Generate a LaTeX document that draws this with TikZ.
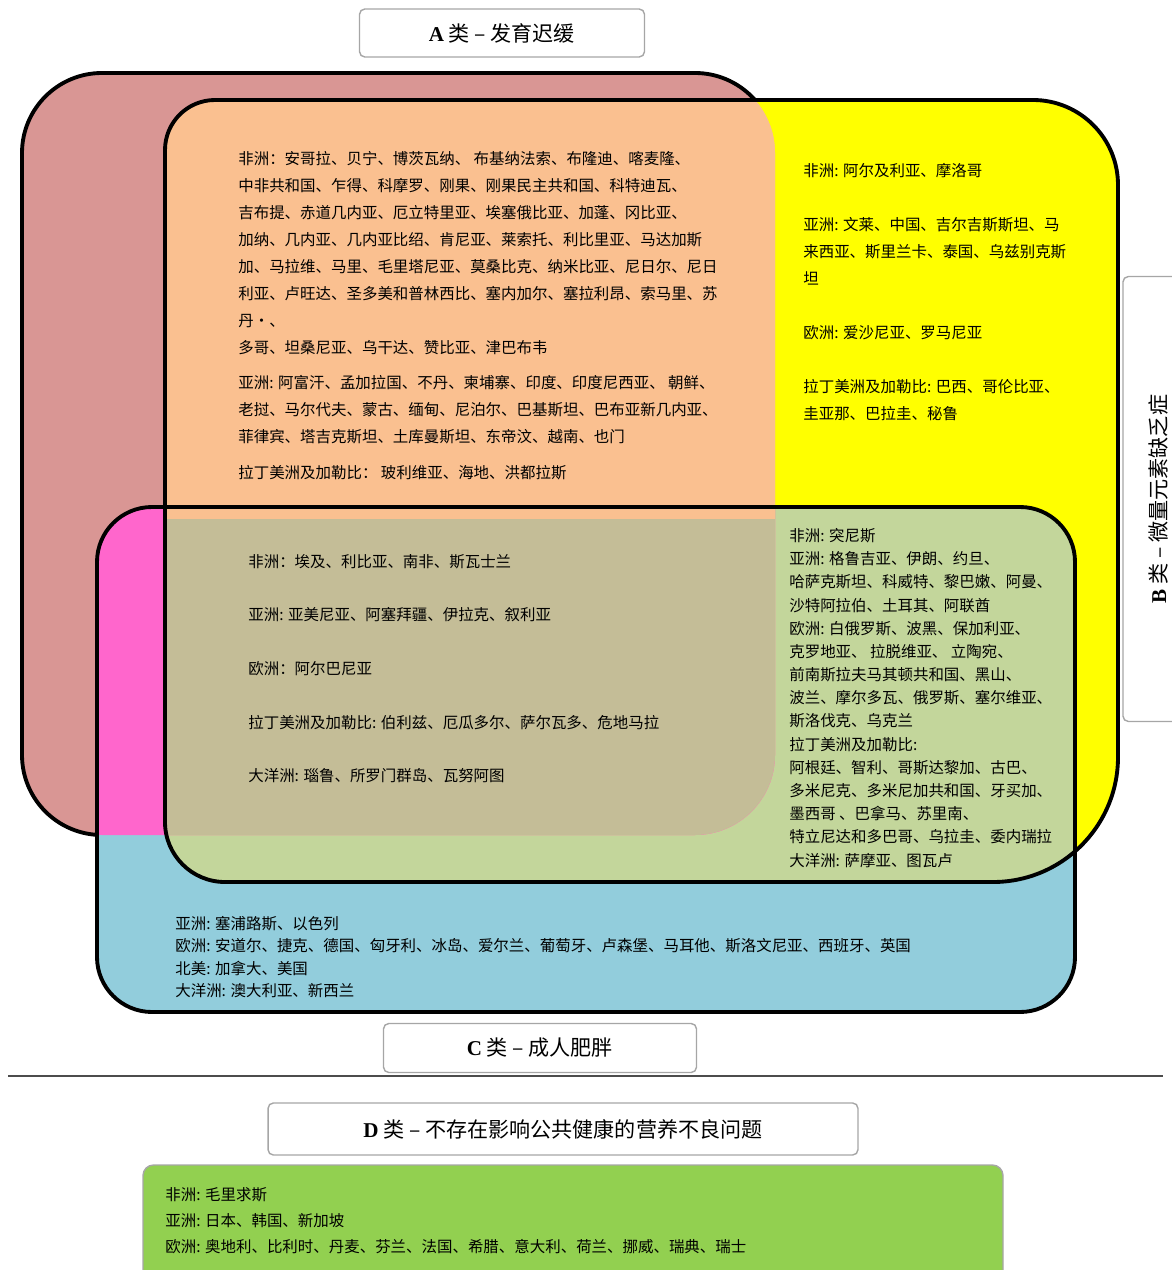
\documentclass[tikz,border=0pt]{standalone}
\usepackage{fontspec}
\setmainfont{Liberation Serif}
\newfontfamily\cjk{Noto Sans CJK SC}
\definecolor{rosea}{HTML}{D99694}
\definecolor{jauneb}{HTML}{FFFF00}
\definecolor{bleuc}{HTML}{92CDDC}
\definecolor{orangeab}{HTML}{FAC090}
\definecolor{magentaac}{HTML}{FF66CC}
\definecolor{vertbc}{HTML}{C3D69B}
\definecolor{kakiabc}{HTML}{C4BD97}
\definecolor{vertd}{HTML}{92D050}
\newcommand\ensA{[rounded corners=1.6cm] (22,73) rectangle (775,835)}
\newcommand\ensB{(165,480) [rounded corners=1.0cm] -- (165,100) [rounded corners=1.7cm] -- (1118,100) [rounded corners=2.5cm] -- (1118,882) [rounded corners=1.2cm] -- (165,882) -- cycle}
\newcommand\ensC{[rounded corners=1.1cm] (97,507) rectangle (1075,1012)}
\begin{document}
\begin{tikzpicture}[x=0.02cm,y=-0.02cm,
	contour/.style={line width=2.2pt,black},
	liste/.style={font=\cjk\fontsize{8.8}{15.4}\selectfont,align=left,inner sep=0pt,anchor=north west},
	titre/.style={draw=gray!70,fill=white,rounded corners=3pt,line width=0.8pt,font=\cjk\fontsize{12}{14}\selectfont,inner sep=0pt}]
		\useasboundingbox (0,0) rectangle (1171,1270);
		% Ensembles
		\fill [rosea] \ensA;
		\fill [jauneb] \ensB;
		\fill [bleuc] \ensC;
		\begin{scope}
			\clip \ensB;
			\fill [vertbc] \ensC;
		\end{scope}
		\begin{scope}
			\clip \ensA;
			\fill [orangeab] \ensB;
			\fill [magentaac] \ensC;
			\clip \ensB;
			\fill [kakiabc] \ensC;
			\fill [orangeab] (0,0) rectangle (1171,519);
		\end{scope}
		\draw [contour] \ensB;
		\draw [contour] \ensC;
		\begin{scope}
			\clip (0,0) -- (1171,0) -- (1171,100) -- (165,100) -- (165,507) -- (97,507) -- (97,1270) -- (0,1270) -- cycle;
			\draw [contour] \ensA;
		\end{scope}
		% Titres
		\node [titre,minimum width=5.7cm,minimum height=0.96cm] (titreA) at (502,33) {{\rmfamily\bfseries A} 类 – 发育迟缓};
		\node [titre,rotate=90,minimum width=8.9cm,minimum height=1.4cm] (titreB) at (1158,499) {{\rmfamily\bfseries B} 类 – 微量元素缺乏症};
		\node [titre,minimum width=6.26cm,minimum height=0.98cm] (titreC) at (540,1048) {{\rmfamily\bfseries C} 类 – 成人肥胖};
		\draw [gray!60!black,line width=0.6pt] (8,1076) -- (1163,1076);
		\node [titre,minimum width=11.8cm,minimum height=1.04cm] (titreD) at (563,1129) {{\rmfamily\bfseries D} 类 – 不存在影响公共健康的营养不良问题};
		\draw [draw=gray!70,fill=vertd,line width=0.8pt,rounded corners=6pt] (143,1165) rectangle (1003,1300);
		% Pays
		\node [liste] (paysAB) at (238,151) {非洲：安哥拉、贝宁、博茨瓦纳、 布基纳法索、布隆迪、喀麦隆、\\
			中非共和国、乍得、科摩罗、刚果、刚果民主共和国、科特迪瓦、\\
			吉布提、赤道几内亚、厄立特里亚、埃塞俄比亚、加蓬、冈比亚、\\
			加纳、几内亚、几内亚比绍、肯尼亚、莱索托、利比里亚、马达加斯\\
			加、马拉维、马里、毛里塔尼亚、莫桑比克、纳米比亚、尼日尔、尼日\\
			利亚、卢旺达、圣多美和普林西比、塞内加尔、塞拉利昂、索马里、苏\\
			丹•、\\
			多哥、坦桑尼亚、乌干达、赞比亚、津巴布韦\\[4.5pt]
			亚洲: 阿富汗、孟加拉国、不丹、柬埔寨、印度、印度尼西亚、 朝鲜、\\
			老挝、马尔代夫、蒙古、缅甸、尼泊尔、巴基斯坦、巴布亚新几内亚、\\
			菲律宾、塔吉克斯坦、土库曼斯坦、东帝汶、越南、也门\\[5pt]
			拉丁美洲及加勒比： 玻利维亚、海地、洪都拉斯};
		\node [liste] (paysB) at (803,163) {非洲: 阿尔及利亚、摩洛哥\\[15.4pt]
			亚洲: 文莱、中国、吉尔吉斯斯坦、马\\
			来西亚、斯里兰卡、泰国、乌兹别克斯\\
			坦\\[15.4pt]
			欧洲: 爱沙尼亚、罗马尼亚\\[15.4pt]
			拉丁美洲及加勒比: 巴西、哥伦比亚、\\
			圭亚那、巴拉圭、秘鲁};
		\node [liste,font=\cjk\fontsize{8.8}{30.5}\selectfont] (paysABC) at (248,554) {非洲：埃及、利比亚、南非、斯瓦士兰\\
			亚洲: 亚美尼亚、阿塞拜疆、伊拉克、叙利亚\\
			欧洲：阿尔巴尼亚\\
			拉丁美洲及加勒比: 伯利兹、厄瓜多尔、萨尔瓦多、危地马拉\\
			大洋洲: 瑙鲁、所罗门群岛、瓦努阿图};
		\node [liste,font=\cjk\fontsize{8.8}{13.2}\selectfont] (paysBC) at (789,528) {非洲: 突尼斯\\
			亚洲: 格鲁吉亚、伊朗、约旦、\\
			哈萨克斯坦、科威特、黎巴嫩、阿曼、\\
			沙特阿拉伯、土耳其、阿联酋\\
			欧洲: 白俄罗斯、波黑、保加利亚、\\
			克罗地亚、 拉脱维亚、 立陶宛、\\
			前南斯拉夫马其顿共和国、黑山、\\
			波兰、摩尔多瓦、俄罗斯、塞尔维亚、\\
			斯洛伐克、乌克兰\\
			拉丁美洲及加勒比:\\
			阿根廷、智利、哥斯达黎加、古巴、\\
			多米尼克、多米尼加共和国、牙买加、\\
			墨西哥 、巴拿马、苏里南、\\
			特立尼达和多巴哥、乌拉圭、委内瑞拉\\
			大洋洲: 萨摩亚、图瓦卢};
		\node [liste,font=\cjk\fontsize{8.8}{12.7}\selectfont] (paysC) at (175,916) {亚洲: 塞浦路斯、以色列\\
			欧洲: 安道尔、捷克、德国、匈牙利、冰岛、爱尔兰、葡萄牙、卢森堡、马耳他、斯洛文尼亚、西班牙、英国\\
			北美: 加拿大、美国\\
			大洋洲: 澳大利亚、新西兰};
		\node [liste,font=\cjk\fontsize{8.8}{14.8}\selectfont] (paysD) at (165,1187) {非洲: 毛里求斯\\
			亚洲: 日本、韩国、新加坡\\
			欧洲: 奥地利、比利时、丹麦、芬兰、法国、希腊、意大利、荷兰、挪威、瑞典、瑞士};
\end{tikzpicture}
\end{document}
